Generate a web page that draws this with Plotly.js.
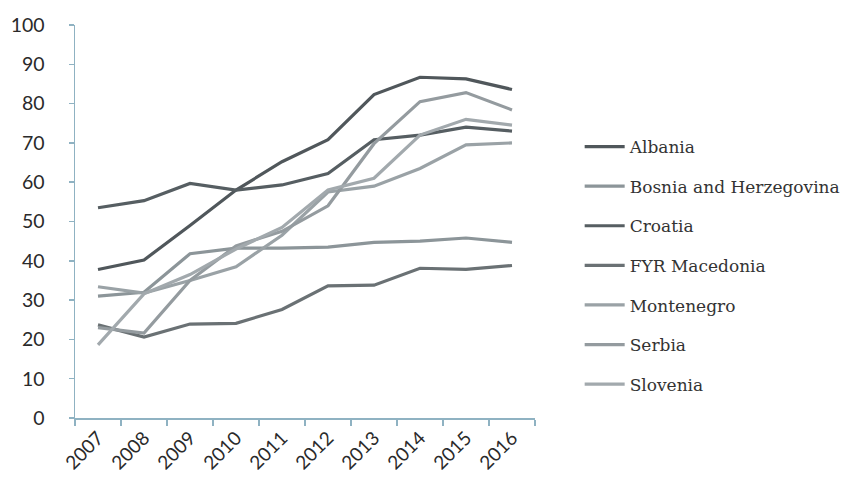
<!DOCTYPE html>
<html>
<head>
<meta charset="utf-8">
<script src="https://cdn.plot.ly/plotly-3.0.1.min.js"></script>
<style>html,body{margin:0;padding:0;background:#fff;}#chart{width:845px;height:500px;}</style>
</head>
<body>
<div id="chart"></div>
<script>
const years = ['2007','2008','2009','2010','2011','2012','2013','2014','2015','2016'];
const countries = ['Albania','Bosnia and Herzegovina','Croatia','FYR Macedonia','Montenegro','Serbia','Slovenia'];
const albania    = [37.8, 40.2, 49.0, 58.0, 65.2, 70.8, 82.3, 86.7, 86.3, 83.6];
const bosnia     = [31.0, 32.0, 41.8, 43.2, 43.2, 43.5, 44.7, 45.0, 45.8, 44.7];
const croatia    = [53.5, 55.3, 59.7, 58.0, 59.3, 62.2, 70.8, 72.0, 74.0, 73.0];
const macedonia  = [23.7, 20.6, 23.9, 24.1, 27.6, 33.6, 33.8, 38.1, 37.8, 38.8];
const montenegro = [33.4, 31.8, 35.0, 38.5, 46.5, 57.5, 59.0, 63.5, 69.5, 70.0];
const serbia     = [23.0, 21.6, 35.0, 43.8, 47.5, 54.0, 69.8, 80.5, 82.8, 78.4];
const slovenia   = [18.6, 31.6, 36.5, 43.0, 48.5, 58.0, 61.0, 72.0, 76.0, 74.5];

const seriesValues = [albania, bosnia, croatia, macedonia, montenegro, serbia, slovenia];
const colors = ['#50575b', '#8c9599', '#565e62', '#6a7174', '#9aa2a6', '#949b9f', '#a2a9ad'];

const traces = countries.map((name, i) => ({
  type: 'scatter',
  mode: 'lines',
  name: name,
  x: years,
  y: seriesValues[i],
  legendgroup: 'g' + i,
  line: {color: colors[i], width: 3.2}
}));

const axisColor = '#8fb2c2';
const layout = {
  width: 845, height: 500,
  margin: {l: 75, r: 310, t: 25, b: 82},
  paper_bgcolor: '#ffffff',
  plot_bgcolor: '#ffffff',
  showlegend: true,
  legend: {
    xref: 'container', yref: 'container',
    x: 0.686, y: 0.742, xanchor: 'left', yanchor: 'top',
    font: {family: 'DejaVu Serif, Liberation Serif, serif', size: 17, color: '#333333'},
    traceorder: 'grouped',
    tracegroupgap: 14.5,
    bgcolor: 'rgba(0,0,0,0)',
    maxheight: 480,
    itemwidth: 40
  },
  xaxis: {
    type: 'category',
    range: [-0.5, 9.5],
    showgrid: false,
    zeroline: false,
    showline: true,
    linecolor: axisColor,
    linewidth: 1.5,
    ticks: 'outside',
    tickson: 'boundaries',
    ticklen: 6,
    tickcolor: axisColor,
    tickwidth: 1.5,
    tickangle: -45,
    tickfont: {family: 'Lato, Liberation Sans, sans-serif', size: 19, color: '#2a2a2a'}
  },
  yaxis: {
    range: [0, 100],
    dtick: 10,
    showgrid: false,
    zeroline: false,
    showline: true,
    linecolor: axisColor,
    linewidth: 1.5,
    ticks: 'outside',
    ticklen: 5,
    tickcolor: axisColor,
    tickwidth: 1.5,
    ticklabelstandoff: 20,
    tickfont: {family: 'Lato, Liberation Sans, sans-serif', size: 19.5, color: '#2a2a2a'}
  }
};

Plotly.newPlot('chart', traces, layout, {displayModeBar: false, staticPlot: true});
</script>
</body>
</html>
